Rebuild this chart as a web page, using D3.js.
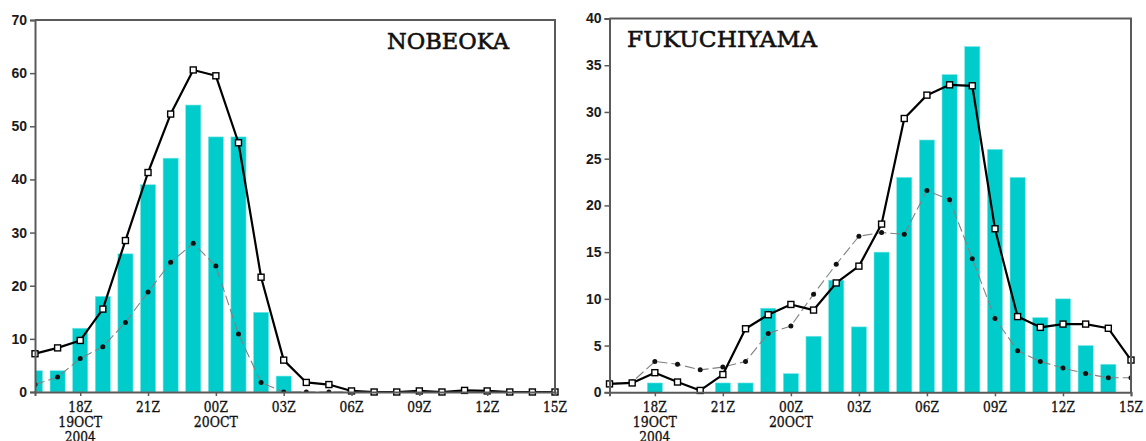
<!DOCTYPE html>
<html>
<head>
<meta charset="utf-8">
<script src="https://cdn.jsdelivr.net/npm/d3@7"></script>
<style>
  html, body { margin: 0; padding: 0; background: #fff; }
  svg { display: block; }
</style>
</head>
<body>
<svg id="chart" width="1146" height="441"></svg>
<script>
// Hours counted from 19 OCT 2004 00Z (24 = 20 OCT 00Z)
const hours = [16, 17, 18, 19, 20, 21, 22, 23, 24, 25, 26, 27, 28, 29, 30, 31, 32, 33, 34, 35, 36, 37, 38, 39];

const tickHours  = [18, 21, 24, 27, 30, 33, 36, 39];
const tickLabels = ["18Z", "21Z", "00Z", "03Z", "06Z", "09Z", "12Z", "15Z"];
const dateLabels = { 18: ["19OCT", "2004"], 24: ["20OCT"] };

// NOBEOKA: hourly observed (bars), run A (solid, squares), run B (dashed, dots)
const nobeokaObs   = [4, 4, 12, 18, 26, 39, 44, 54, 48, 48, 15, 3, 0, 0, 0, 0, 0, 0, 0, 0, 0, 0, 0, 0];
const nobeokaRunA  = [7.2, 8.3, 9.7, 15.6, 28.5, 41.3, 52.3, 60.6, 59.5, 46.9, 21.6, 6.0, 1.8, 1.4, 0.2, 0, 0, 0.2, 0, 0.3, 0.2, 0, 0, 0];
const nobeokaRunB  = [1.4, 2.8, 6.3, 8.5, 13.1, 18.8, 24.4, 28.0, 23.7, 10.9, 1.8, 0, 0, 0, 0, 0, 0, 0, 0, 0, 0, 0, 0, 0];

// FUKUCHIYAMA
const fukuObs  = [0, 0, 1, 0, 0, 1, 1, 9, 2, 6, 12, 7, 15, 23, 27, 34, 37, 26, 23, 8, 10, 5, 3, 0];
const fukuRunA = [0.9, 1.0, 2.1, 1.1, 0.2, 1.9, 6.8, 8.3, 9.4, 8.8, 11.7, 13.5, 18.0, 29.3, 31.8, 32.9, 32.8, 17.5, 8.1, 6.95, 7.3, 7.3, 6.85, 3.45];
const fukuRunB = [0.9, 1.1, 3.3, 3.0, 2.4, 2.7, 3.3, 6.3, 7.1, 10.5, 13.7, 16.7, 17.1, 16.9, 21.6, 20.6, 14.3, 7.9, 4.45, 3.3, 2.6, 2.0, 1.55, 1.55];

const panels = [
  { id: "nob", title: "NOBEOKA", obs: nobeokaObs, runA: nobeokaRunA, runB: nobeokaRunB,
    yMax: 70, yStep: 10, left: 35, right: 555, top: 20, bottom: 392,
    titleX: 387, titleY: 49, titleW: 122 },
  { id: "fuk", title: "FUKUCHIYAMA", obs: fukuObs, runA: fukuRunA, runB: fukuRunB,
    yMax: 40, yStep: 5, left: 609.5, right: 1131, top: 18.5, bottom: 392.3,
    titleX: 627, titleY: 47, titleW: 190 }
];

const svg = d3.select("#chart");
const axisColor = "#5a5a5a";
const barColor = "#00cccc";
const labelFont = "'DejaVu Serif', 'Liberation Serif', serif";

panels.forEach(p => {
  const x = d3.scaleLinear().domain([16, 39]).range([p.left, p.right]);
  const y = d3.scaleLinear().domain([0, p.yMax]).range([p.bottom, p.top]);
  const g = svg.append("g");

  g.append("clipPath").attr("id", "clip-" + p.id)
    .append("rect")
    .attr("x", p.left).attr("y", p.top)
    .attr("width", p.right - p.left).attr("height", p.bottom - p.top);

  const plot = g.append("g").attr("clip-path", `url(#clip-${p.id})`);

  // hourly bars, centred on each hour
  const bw = (x(1) - x(0)) * 0.67;
  plot.selectAll("rect.bar")
    .data(hours.map((h, i) => ({ h, v: p.obs[i] })).filter(d => d.v > 0))
    .join("rect")
    .attr("class", "bar")
    .attr("x", d => x(d.h) - bw / 2)
    .attr("width", bw)
    .attr("y", d => y(d.v))
    .attr("height", d => y(0) - y(d.v))
    .attr("fill", barColor)
    .attr("stroke", "#7fe8e8")
    .attr("stroke-width", 0.6);

  const line = d3.line().x(d => x(d.h)).y(d => y(d.v));
  const runA = hours.map((h, i) => ({ h, v: p.runA[i] }));
  const runB = hours.map((h, i) => ({ h, v: p.runB[i] }));

  // run B: thin grey dashed line with black dots
  plot.append("path")
    .datum(runB)
    .attr("d", line)
    .attr("fill", "none")
    .attr("stroke", "#808080")
    .attr("stroke-width", 1.1)
    .attr("stroke-dasharray", "10,4");
  plot.selectAll("circle.dot")
    .data(runB)
    .join("circle")
    .attr("class", "dot")
    .attr("cx", d => x(d.h)).attr("cy", d => y(d.v))
    .attr("r", 2.5)
    .attr("fill", "#111");

  // run A: bold black line with open squares
  plot.append("path")
    .datum(runA)
    .attr("d", line)
    .attr("fill", "none")
    .attr("stroke", "#000")
    .attr("stroke-width", 2.2)
    .attr("stroke-linejoin", "round");
  const sq = 6;
  g.selectAll("rect.sq")
    .data(runA)
    .join("rect")
    .attr("class", "sq")
    .attr("x", d => x(d.h) - sq / 2).attr("y", d => y(d.v) - sq / 2)
    .attr("width", sq).attr("height", sq)
    .attr("fill", "#fff")
    .attr("stroke", "#000")
    .attr("stroke-width", 1.4);

  // frame: top and right
  g.append("path")
    .attr("d", `M${p.left},${p.top}H${p.right}V${p.bottom}`)
    .attr("fill", "none")
    .attr("stroke", axisColor)
    .attr("stroke-width", 2);

  // y axis
  const yAxis = d3.axisLeft(y)
    .tickValues(d3.range(0, p.yMax + 0.001, p.yStep))
    .tickSize(5)
    .tickPadding(3)
    .tickFormat(d3.format("d"));
  const ya = g.append("g").attr("transform", `translate(${p.left},0)`).call(yAxis);
  ya.select(".domain").attr("stroke", axisColor).attr("stroke-width", 2);
  ya.selectAll(".tick line").attr("stroke", axisColor).attr("stroke-width", 1.5);
  ya.selectAll(".tick text")
    .attr("font-family", "'Liberation Sans', Arial, sans-serif")
    .attr("font-weight", "bold")
    .attr("font-size", 14)
    .attr("fill", "#1a1a1a");

  // x axis
  const xAxis = d3.axisBottom(x)
    .tickValues(tickHours)
    .tickSize(4)
    .tickFormat("");
  const xa = g.append("g").attr("transform", `translate(0,${p.bottom})`).call(xAxis);
  xa.select(".domain").attr("stroke", axisColor).attr("stroke-width", 2);
  xa.selectAll(".tick line").attr("stroke", axisColor).attr("stroke-width", 1.5);

  tickHours.forEach((h, i) => {
    const lines = [tickLabels[i]].concat(dateLabels[h] || []);
    lines.forEach((t, k) => {
      const w = t.length === 3 ? 24 : (t.length === 4 ? 31 : 44);
      g.append("text")
        .attr("x", x(h))
        .attr("y", p.bottom + 19.5 + k * 15)
        .attr("text-anchor", "middle")
        .attr("font-family", labelFont)
        .attr("font-size", 15)
        .attr("textLength", w)
        .attr("lengthAdjust", "spacingAndGlyphs")
        .attr("fill", "#111")
        .attr("stroke", "#111")
        .attr("stroke-width", 0.35)
        .text(t);
    });
  });

  // station name
  g.append("text")
    .attr("x", p.titleX)
    .attr("y", p.titleY)
    .attr("font-family", labelFont)
    .attr("font-size", 23)
    .attr("textLength", p.titleW)
    .attr("lengthAdjust", "spacingAndGlyphs")
    .attr("fill", "#111")
    .attr("stroke", "#111")
    .attr("stroke-width", 0.6)
    .text(p.title);
});
</script>
</body>
</html>
